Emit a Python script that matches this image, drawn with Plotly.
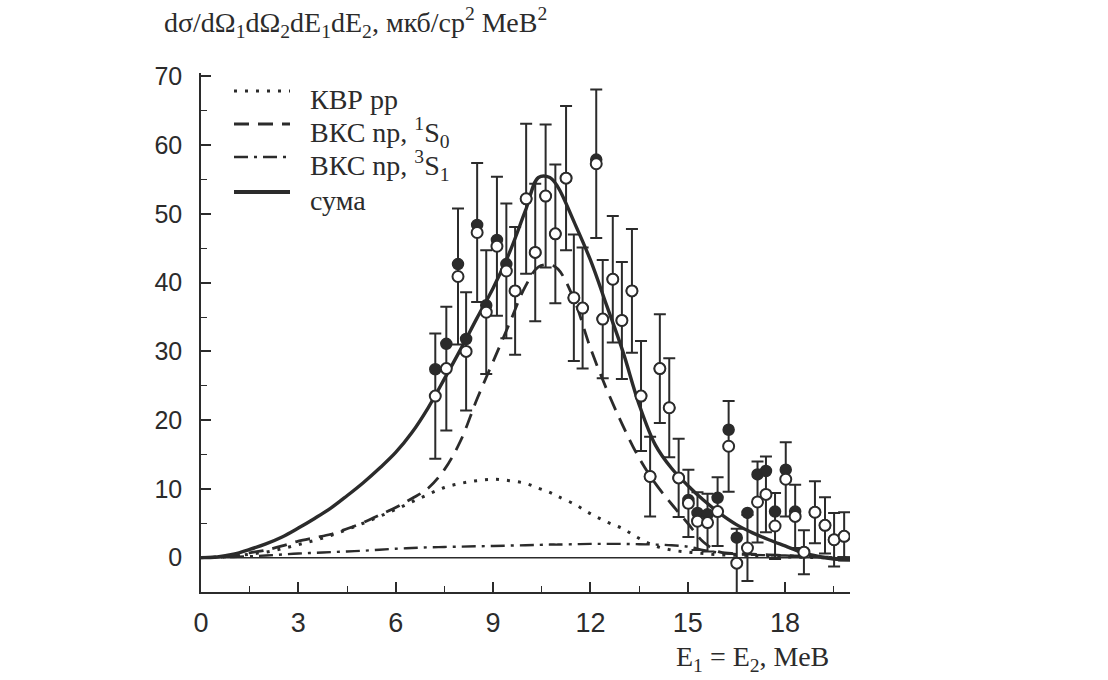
import plotly.graph_objects as go

# ---------------- data ----------------
# theory curves (x in MeV)
curve_x = [0, 0.5, 1, 1.5, 2, 2.5, 3, 3.5, 4, 4.5, 5, 5.5, 6, 6.5, 7, 7.5, 8, 8.5, 9, 9.5,
           10, 10.4, 10.75, 11, 11.5, 12, 12.5, 13, 13.5, 14, 14.5, 15, 15.5, 16, 16.5,
           17, 17.5, 18, 18.5, 19, 19.5, 20]
suma = [0, 0.1, 0.5, 1.2, 2.0, 3.0, 4.3, 5.7, 7.2, 9.0, 10.9, 13.0, 15.3, 18.2, 21.8, 26.0,
        30.3, 34.8, 39.2, 44.3, 50.5, 55.3, 55.3, 53.9, 48.8, 43.3, 36.7, 30.0, 22.3, 16.4,
        13.0, 10.5, 8.3, 6.4, 4.8, 3.6, 2.6, 1.7, 0.8, 0.2, -0.2, -0.3]
vks_1s0 = [0, 0.1, 0.3, 0.7, 1.1, 1.7, 2.4, 2.9, 3.4, 4.2, 5.1, 6.2, 7.3, 8.6, 10.1, 12.8,
           17.0, 23.0, 28.5, 34.0, 39.5, 42.3, 42.6, 42.0, 37.5, 30.5, 24.5, 19.2, 14.5,
           10.8, 7.8, 5.0, 2.2, 0.8, 0.6, 0.5, 0.4, 0.3, 0.2, 0.1, 0.05, 0]
kvr_pp = [0, 0.05, 0.2, 0.5, 0.8, 1.3, 1.9, 2.5, 3.2, 4.1, 5.0, 6.0, 7.0, 8.1, 9.2, 10.2,
          10.8, 11.2, 11.4, 11.2, 10.8, 10.1, 9.5, 8.9, 7.8, 6.4, 5.2, 4.2, 2.8, 1.7, 1.1,
          0.8, 0.6, 0.4, 0.35, 0.3, 0.2, 0.1, 0.05, 0, 0, 0]
vks_3s1 = [0, 0.05, 0.1, 0.2, 0.3, 0.45, 0.6, 0.7, 0.8, 0.9, 1.0, 1.15, 1.3, 1.4, 1.5, 1.55,
           1.6, 1.65, 1.7, 1.75, 1.8, 1.85, 1.9, 1.9, 1.95, 2.0, 2.0, 2.0, 1.95, 1.9, 1.8,
           1.6, 1.1, 0.7, 0.5, 0.4, 0.35, 0.3, 0.2, 0.1, 0.05, 0]

# experimental points
exp_x = [7.22, 7.56, 7.92, 8.17, 8.51, 8.79, 9.12, 9.41, 9.68, 10.02, 10.30, 10.62, 10.92,
         11.25, 11.49, 11.76, 12.18, 12.38, 12.69, 12.97, 13.28, 13.56, 13.84, 14.14, 14.43,
         14.72, 15.02, 15.30, 15.61, 15.92, 16.26, 16.51, 16.84, 17.15, 17.41, 17.69, 18.02,
         18.31, 18.58, 18.92, 19.23, 19.51, 19.82]
open_y = [23.5, 27.5, 40.9, 30.0, 47.3, 35.7, 45.3, 41.7, 38.8, 52.2, 44.4, 52.6, 47.1,
          55.2, 37.8, 36.3, 57.3, 34.7, 40.5, 34.5, 38.8, 23.5, 11.8, 27.5, 21.8,
          11.6, 7.9, 5.3, 5.1, 6.7, 16.2, -0.8, 1.4, 8.1, 9.2, 4.6, 11.4,
          6.0, 0.8, 6.6, 4.7, 2.6, 3.1]
open_err = [9.1, 9.0, 9.9, 8.6, 10.1, 9.0, 10.1, 9.8, 9.3, 10.9, 10.0, 10.4, 10.1,
            10.5, 9.2, 8.8, 10.8, 8.6, 9.2, 8.5, 9.0, 8.0, 5.8, 7.9, 7.2,
            5.7, 4.9, 4.2, 4.2, 5.0, 6.6, 5.0, 4.8, 5.9, 5.5, 4.8, 5.4,
            4.6, 3.2, 4.5, 4.1, 3.9, 3.5]
filled_y = [27.4, 31.1, 42.7, 31.8, 48.4, 36.7, 46.2, 42.7, 38.8, 52.2, 44.4, 52.6, 47.1,
            55.2, 37.8, 36.3, 57.9, 34.7, 40.5, 34.5, 38.8, 23.5, 11.8, 27.5, 21.8,
            11.6, 8.4, 6.5, 6.3, 8.7, 18.6, 2.9, 6.5, 12.1, 12.6, 6.7, 12.8,
            6.7, 0.8, 6.6, 4.7, 2.6, 3.1]

legend_names = ["КВР pp", "ВКС np, <sup>1</sup>S<sub>0</sub>",
                "ВКС np, <sup>3</sup>S<sub>1</sub>", "сума"]

INK = "#2b2b2b"
SERIF = "Liberation Serif, Times New Roman, serif"
SANS = "Liberation Sans, Arial, sans-serif"

W, H = 1108, 680
ML, MR, MT, MB = 201, 258, 73, 88

DOT = "3px,8px"
DASH = "15px,9px"
DASHDOT = "14px,6px,3px,6px"

fig = go.Figure()

fig.add_trace(go.Scatter(x=curve_x, y=kvr_pp, mode="lines", line=dict(color=INK, width=3, dash=DOT, shape="spline")))
fig.add_trace(go.Scatter(x=curve_x, y=vks_1s0, mode="lines", line=dict(color=INK, width=2.8, dash=DASH, shape="spline")))
fig.add_trace(go.Scatter(x=curve_x, y=vks_3s1, mode="lines", line=dict(color=INK, width=2.4, dash=DASHDOT, shape="spline")))
fig.add_trace(go.Scatter(x=curve_x, y=suma, mode="lines", line=dict(color=INK, width=3.4, shape="spline")))

fig.add_trace(go.Scatter(x=exp_x, y=open_y, mode="markers",
                         error_y=dict(type="data", array=open_err, color=INK, thickness=2, width=6),
                         marker=dict(size=1, color=INK), hoverinfo="skip"))
fig.add_trace(go.Scatter(x=exp_x, y=filled_y, mode="markers",
                         marker=dict(size=11, color=INK, line=dict(color=INK, width=1.5))))
fig.add_trace(go.Scatter(x=exp_x, y=open_y, mode="markers",
                         marker=dict(size=11, color="white", line=dict(color=INK, width=2))))

# zero reference line
fig.add_shape(type="line", xref="paper", yref="y", x0=0, x1=1, y0=0, y1=0,
              line=dict(color=INK, width=1.5))

# manual legend
def px2paper_x(px):
    return (px - ML) / (W - ML - MR)

def py2paper_y(py):
    return 1 - (py - MT) / (H - MT - MB)

leg_lines_y = [91, 124, 157, 192]
leg_dash = [DOT, DASH, DASHDOT, "solid"]
leg_w = [3, 2.8, 2.4, 3.8]
for yy, dd, ww, name in zip(leg_lines_y, leg_dash, leg_w, legend_names):
    fig.add_shape(type="line", xref="paper", yref="paper",
                  x0=px2paper_x(234), x1=px2paper_x(290),
                  y0=py2paper_y(yy), y1=py2paper_y(yy),
                  line=dict(color=INK, width=ww, dash=dd))
    fig.add_annotation(xref="paper", yref="paper", x=px2paper_x(308), y=py2paper_y(yy + 8),
                       text=name, showarrow=False, xanchor="left", yanchor="middle",
                       font=dict(family=SERIF, size=28, color=INK))

# y-axis title (top)
fig.add_annotation(xref="paper", yref="paper", x=px2paper_x(162), y=py2paper_y(22),
                   text="dσ/dΩ<sub>1</sub>dΩ<sub>2</sub>dE<sub>1</sub>dE<sub>2</sub>, мкб/ср<sup>2</sup> МеВ<sup>2</sup>",
                   showarrow=False, xanchor="left", yanchor="middle",
                   font=dict(family=SERIF, size=28, color=INK))
# x-axis title
fig.add_annotation(xref="paper", yref="paper", x=px2paper_x(752), y=py2paper_y(658),
                   text="E<sub>1</sub> = E<sub>2</sub>, МеВ",
                   showarrow=False, xanchor="center", yanchor="middle",
                   font=dict(family=SERIF, size=28, color=INK))

fig.update_layout(
    width=W, height=H,
    margin=dict(l=ML, r=MR, t=MT, b=MB),
    paper_bgcolor="white", plot_bgcolor="white",
    showlegend=False,
    xaxis=dict(range=[0, 20], tickmode="linear", tick0=0, dtick=3,
               ticks="inside", ticklen=10, tickwidth=1.5, tickcolor=INK,
               minor=dict(dtick=1.5, ticks="inside", ticklen=6, tickwidth=1.2, tickcolor=INK),
               showline=True, linecolor=INK, linewidth=1.5,
               showgrid=False, zeroline=False,
               tickfont=dict(family=SANS, size=27, color=INK), ticklabelstandoff=6),
    yaxis=dict(range=[-5, 70.5], tickmode="linear", tick0=0, dtick=10,
               ticks="inside", ticklen=10, tickwidth=1.5, tickcolor=INK,
               minor=dict(dtick=5, ticks="inside", ticklen=6, tickwidth=1.2, tickcolor=INK),
               showline=True, linecolor=INK, linewidth=1.5,
               showgrid=False, zeroline=False,
               tickfont=dict(family=SANS, size=25, color=INK), ticklabelstandoff=12),
)

fig.write_html("out.html")
